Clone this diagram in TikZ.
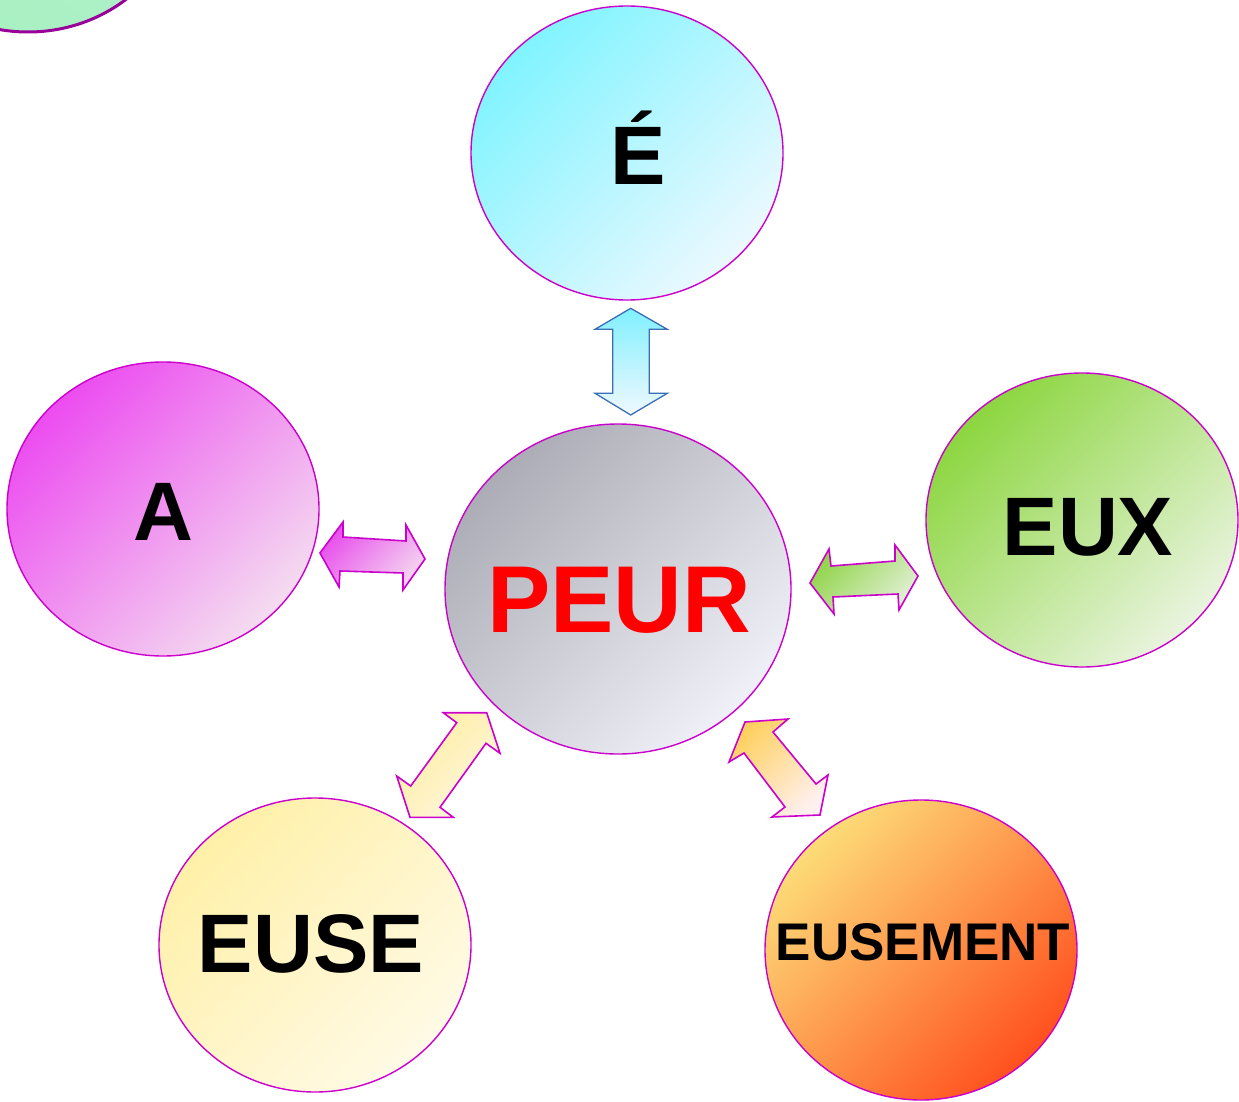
\documentclass[tikz,border=0pt]{standalone}
\usepackage{fontspec}
\setmainfont{Liberation Sans}
\usetikzlibrary{shapes.geometric}
\definecolor{bord}{HTML}{CC00CC}
\definecolor{darkpurp}{HTML}{990099}
\definecolor{bluebord}{HTML}{3C6EB4}
\tikzset{
  bubble/.style={ellipse, draw=bord, line width=1.4pt, minimum width=312pt, minimum height=294pt, inner sep=0pt},
  lbl/.style={inner sep=0pt, anchor=base, font=\bfseries\fontsize{83}{83}\selectfont},
  blk/.style={draw=bord, line width=1.6pt, line join=miter},
  diag/.style={shading angle=45}
}
\begin{document}
\begin{tikzpicture}[x=1pt,y=-1pt]
\clip (0,0) rectangle (1239,1102);
\fill[white] (0,0) rectangle (1239,1102);
% partial bubble top-left
\node[bubble, draw=darkpurp, line width=3pt, top color={rgb,255:red,184;green,240;blue,216}, bottom color={rgb,255:red,168;green,240;blue,192}, shading angle=-30] (corner) at (28,-115) {};
% bubbles
\node[bubble, top color={rgb,255:red,128;green,244;blue,255}, bottom color={rgb,255:red,236;green,248;blue,255}, diag] (e) at (627,153) {};
\node[bubble, top color={rgb,255:red,236;green,76;blue,240}, bottom color={rgb,255:red,244;green,220;blue,240}, diag] (a) at (163,509) {};
\node[bubble, minimum width=346pt, minimum height=330pt, top color={rgb,255:red,172;green,172;blue,182}, bottom color={rgb,255:red,240;green,240;blue,248}, diag] (peur) at (618,589) {};
\node[bubble, top color={rgb,255:red,140;green,214;blue,64}, bottom color={rgb,255:red,234;green,244;blue,224}, diag] (eux) at (1082,520) {};
\node[bubble, top color={rgb,255:red,255;green,240;blue,168}, bottom color={rgb,255:red,255;green,250;blue,230}, diag] (euse) at (315,945) {};
\node[bubble, minimum height=300pt, top color={rgb,255:red,253;green,220;blue,120}, bottom color={rgb,255:red,255;green,80;blue,30}, diag] (eusement) at (921,950) {};
% labels
\node[lbl] (te) at (638,185) {É};
\node[lbl] (ta) at (163,540) {A};
\node[lbl, text={rgb,255:red,255;green,0;blue,0}, font=\bfseries\fontsize{95}{95}\selectfont] (tpeur) at (619,632) {PEUR};
\node[lbl] (teux) at (1088,555) {EUX};
\node[lbl] (teuse) at (311,972) {EUSE};
\node[lbl, font=\bfseries\fontsize{53}{53}\selectfont] (teusement) at (923,960) {EUSEMENT};
% block arrows
\draw[blk, draw=bluebord, line width=1.3pt, top color={rgb,255:red,128;green,240;blue,255}, bottom color={rgb,255:red,240;green,248;blue,255}]
  (630.7,308.3) -- (667.3,329.3) -- (649.3,329.3) -- (649.3,393.3) -- (667.3,393.3) -- (630.7,415)
  -- (595,393.3) -- (612.7,393.3) -- (612.7,329.3) -- (595,329.3) -- cycle;
\draw[blk, top color={rgb,255:red,232;green,80;blue,236}, bottom color={rgb,255:red,244;green,214;blue,240}, diag]
  (320,553) -- (343,522) -- (343,537) -- (406,541) -- (406,525) -- (425,559) -- (403,590) -- (403,573) -- (340,571) -- (339,587) -- cycle;
\draw[blk, top color={rgb,255:red,144;green,212;blue,72}, bottom color={rgb,255:red,226;green,240;blue,214}, diag]
  (810,583) -- (829,549) -- (831,566) -- (895,561) -- (895,545) -- (918,576) -- (899,610) -- (898,594) -- (833,597) -- (834,614) -- cycle;
\draw[blk, top color={rgb,255:red,255;green,236;blue,160}, bottom color={rgb,255:red,255;green,248;blue,224}, diag]
  (443.3,712.7) -- (486.7,712.7) -- (500,753.3) -- (486,743.3) -- (440,807.3) -- (453.3,817.3) -- (410,817.3) -- (396.7,776) -- (410.7,786) -- (456.7,722.7) -- cycle;
\draw[blk, top color={rgb,255:red,255;green,208;blue,96}, bottom color={rgb,255:red,255;green,240;blue,240}, diag]
  (745,722) -- (788,719) -- (773,732) -- (816,784) -- (828,775) -- (820,815) -- (772,817) -- (785,807) -- (744,753) -- (729,762) -- cycle;
\end{tikzpicture}
\end{document}
